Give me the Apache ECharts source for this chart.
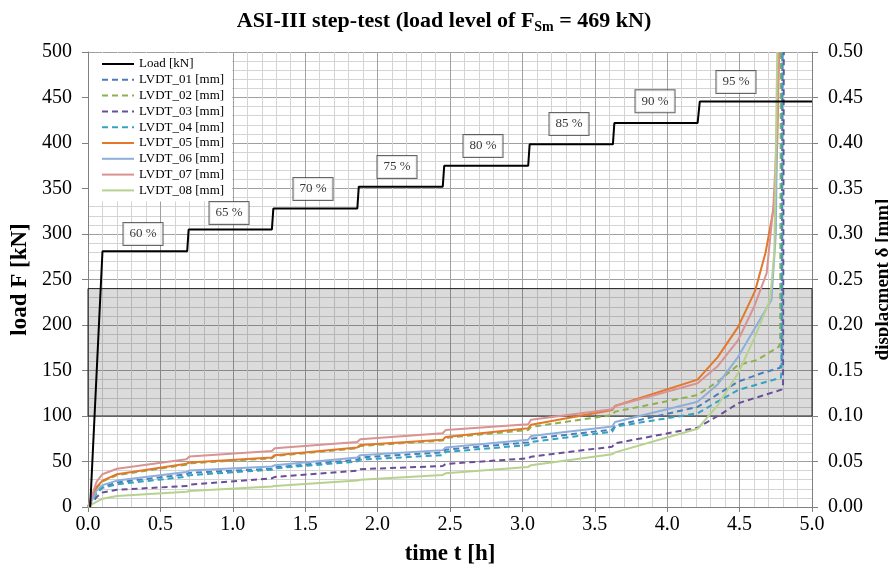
<!DOCTYPE html>
<html>
<head>
<meta charset="utf-8">
<script src="https://cdn.jsdelivr.net/npm/echarts@6/dist/echarts.min.js"></script>
<style>html,body{margin:0;padding:0;background:#fff}#c{width:888px;height:566px}</style>
</head>
<body>
<div id="c"></div>
<script>
// ---- data (time [h], value) ----
const loadKN = [[0.015,0],[0.10,281],[0.685,281],[0.695,305],[1.27,305],[1.28,328],[1.86,328],[1.87,352],[2.45,352],[2.46,375],[3.04,375],[3.05,398.5],[3.625,398.5],[3.635,422],[4.21,422],[4.225,445.5],[5.0,445.5]];
const lvdt01 = [[0,0],[0.03,0.007],[0.06,0.016],[0.1,0.022],[0.2,0.027],[0.68,0.036],[0.70,0.0375],[1.27,0.042],[1.29,0.0435],[1.86,0.052],[1.88,0.0545],[2.45,0.060],[2.47,0.063],[3.04,0.071],[3.06,0.075],[3.62,0.085],[3.64,0.0895],[4.21,0.110],[4.35,0.124],[4.49,0.1377],[4.65,0.147],[4.78,0.153],[4.79,0.16],[4.795,0.5]];
const lvdt02 = [[0,0],[0.03,0.009],[0.06,0.021],[0.1,0.028],[0.2,0.035],[0.68,0.0465],[0.70,0.048],[1.27,0.0535],[1.29,0.056],[1.86,0.0645],[1.88,0.067],[2.45,0.073],[2.47,0.076],[3.04,0.0846],[3.06,0.088],[3.62,0.101],[3.64,0.1048],[4.21,0.123],[4.35,0.138],[4.49,0.156],[4.62,0.1615],[4.77,0.176],[4.78,0.18],[4.785,0.5]];
const lvdt03 = [[0,0],[0.03,0.005],[0.06,0.011],[0.1,0.016],[0.2,0.019],[0.68,0.023],[0.70,0.0245],[1.27,0.0315],[1.29,0.033],[1.86,0.040],[1.88,0.0415],[2.45,0.045],[2.47,0.0473],[3.04,0.0535],[3.06,0.0553],[3.62,0.0663],[3.64,0.070],[4.21,0.0872],[4.35,0.100],[4.49,0.114],[4.65,0.122],[4.79,0.129],[4.80,0.135],[4.805,0.5]];
const lvdt04 = [[0,0],[0.03,0.007],[0.06,0.015],[0.1,0.021],[0.2,0.025],[0.68,0.0333],[0.70,0.035],[1.27,0.041],[1.29,0.0425],[1.86,0.050],[1.88,0.052],[2.45,0.057],[2.47,0.0605],[3.04,0.068],[3.06,0.0714],[3.62,0.0828],[3.64,0.0883],[4.21,0.103],[4.35,0.116],[4.49,0.1286],[4.65,0.136],[4.785,0.142],[4.79,0.15],[4.795,0.5]];
const lvdt05 = [[0,0],[0.03,0.010],[0.06,0.022],[0.1,0.029],[0.2,0.036],[0.68,0.0475],[0.70,0.049],[1.27,0.0545],[1.29,0.057],[1.86,0.0655],[1.88,0.068],[2.45,0.074],[2.47,0.077],[3.04,0.0865],[3.06,0.0905],[3.62,0.1065],[3.64,0.111],[4.21,0.140],[4.35,0.165],[4.49,0.198],[4.607,0.2375],[4.68,0.28],[4.745,0.337],[4.76,0.40],[4.772,0.5]];
const lvdt06 = [[0,0],[0.03,0.008],[0.06,0.018],[0.1,0.024],[0.2,0.029],[0.68,0.0385],[0.70,0.040],[1.27,0.0445],[1.29,0.046],[1.86,0.0545],[1.88,0.057],[2.45,0.0625],[2.47,0.0655],[3.04,0.074],[3.06,0.078],[3.62,0.0885],[3.64,0.0935],[4.21,0.1157],[4.35,0.135],[4.49,0.165],[4.60,0.195],[4.72,0.2275],[4.75,0.30],[4.765,0.5]];
const lvdt07 = [[0,0],[0.03,0.014],[0.06,0.028],[0.1,0.036],[0.2,0.042],[0.68,0.0525],[0.70,0.0555],[1.27,0.0615],[1.29,0.0645],[1.86,0.0715],[1.88,0.0745],[2.45,0.081],[2.47,0.0845],[3.04,0.091],[3.06,0.096],[3.62,0.1075],[3.64,0.111],[4.21,0.136],[4.35,0.155],[4.49,0.1835],[4.60,0.22],[4.687,0.257],[4.733,0.33],[4.755,0.40],[4.77,0.5]];
const lvdt08 = [[0,0],[0.03,0.003],[0.06,0.006],[0.1,0.009],[0.2,0.012],[0.68,0.0168],[0.70,0.0175],[1.27,0.0225],[1.29,0.023],[1.86,0.029],[1.88,0.030],[2.45,0.0352],[2.47,0.037],[3.04,0.044],[3.06,0.046],[3.62,0.058],[3.64,0.060],[4.21,0.086],[4.35,0.112],[4.49,0.147],[4.60,0.185],[4.71,0.2275],[4.74,0.28],[4.76,0.5]];
const levelLabels = ['60 %','65 %','70 %','75 %','80 %','85 %','90 %','95 %'];
const levelLabelPos = [[0.38,300],[0.974,323],[1.554,349.5],[2.134,373.6],[2.728,396.7],[3.322,421],[3.916,446],[4.475,467]];
const bandRange = [100,240];
const seriesNames = ['Load [kN]','LVDT_01 [mm]','LVDT_02 [mm]','LVDT_03 [mm]','LVDT_04 [mm]','LVDT_05 [mm]','LVDT_06 [mm]','LVDT_07 [mm]','LVDT_08 [mm]'];

const FONT = '"Liberation Serif","Times New Roman",serif';
const lv = [lvdt01,lvdt02,lvdt03,lvdt04,lvdt05,lvdt06,lvdt07,lvdt08];
const colors = ['#4a7ebb','#8eb04f','#6a4f98','#34a3c2','#e3782a','#8eaedb','#d99392','#b7d18e'];
const dashed = [true,true,true,true,false,false,false,false];

const series = [{
  name: seriesNames[0], type:'line', data: loadKN, yAxisIndex:0, symbol:'none',
  lineStyle:{color:'#000',width:2}, itemStyle:{color:'#000'}, z:3,
  markArea:{silent:true, itemStyle:{color:'rgba(0,0,0,0.14)',borderColor:'#222',borderWidth:1},
    data:[[{xAxis:0,yAxis:bandRange[0]},{xAxis:5,yAxis:bandRange[1]}]]}
}];
lv.forEach((d,i)=>{
  series.push({name:seriesNames[i+1],type:'line',data:d,yAxisIndex:1,symbol:'none',
    lineStyle:{color:colors[i],width:2,type:dashed[i]?[6,4]:'solid'},itemStyle:{color:colors[i]},z:2});
});
series.push({name:'levels',type:'scatter',yAxisIndex:0,symbolSize:1,itemStyle:{color:'rgba(0,0,0,0)'},z:5,
  data: levelLabelPos.map((p,i)=>({value:p,label:{formatter:levelLabels[i]}})),
  label:{show:true,position:'inside',fontFamily:FONT,fontSize:13,color:'#000',backgroundColor:'#fff',
    borderColor:'#404040',borderWidth:1,padding:[5,6,4,6]}});

const nameStyle = {fontFamily:FONT,fontSize:23,fontWeight:'bold',color:'#000'};
const chart = echarts.init(document.getElementById('c'),null,{renderer:'canvas'});
chart.setOption({
  animation:false,
  backgroundColor:'#fff',
  title:{left:'center',top:3,text:'{a|ASI-III step-test (load level of F}{s|Sm}{a| = 469 kN)}',
    textStyle:{rich:{a:{fontFamily:FONT,fontSize:22,fontWeight:'bold',color:'#000',lineHeight:26},
      s:{fontFamily:FONT,fontSize:14,fontWeight:'bold',color:'#000',lineHeight:14,verticalAlign:'bottom'}}}},
  grid:{left:88,right:76,top:52,bottom:59,containLabel:false,outerBoundsMode:'none'},
  legend:{data:seriesNames,orient:'vertical',left:89,top:53,padding:[4,8,4,12],itemWidth:32,itemHeight:14,itemGap:1.8,
    backgroundColor:'#fff',itemStyle:{opacity:0},textStyle:{fontFamily:FONT,fontSize:13,color:'#000',lineHeight:14}},
  xAxis:{type:'value',min:0,max:5,interval:0.5,
    name:'time t [h]',nameLocation:'middle',nameGap:36,nameTextStyle:nameStyle,
    axisLine:{lineStyle:{color:'#808080'}},axisTick:{show:true,length:5,lineStyle:{color:'#808080'}},
    axisLabel:{fontFamily:FONT,fontSize:20,color:'#000',margin:8,formatter:v=>v.toFixed(1)},
    splitLine:{show:true,lineStyle:{color:'#a0a0a0',width:1}},
    minorTick:{show:true,splitNumber:5,length:0},minorSplitLine:{show:true,lineStyle:{color:'#d4d4d4',width:1}}},
  yAxis:[{type:'value',min:0,max:500,interval:50,position:'left',
    name:'load F [kN]',nameLocation:'middle',nameGap:53,nameRotate:90,nameTextStyle:nameStyle,
    axisLine:{show:true,lineStyle:{color:'#808080'}},axisTick:{show:true,length:6,lineStyle:{color:'#808080'}},
    axisLabel:{fontFamily:FONT,fontSize:20,color:'#000',margin:16},
    splitLine:{show:true,lineStyle:{color:'#a0a0a0',width:1}},
    minorTick:{show:true,splitNumber:5,length:0},minorSplitLine:{show:true,lineStyle:{color:'#d4d4d4',width:1}}},
   {type:'value',min:0,max:0.5,interval:0.05,position:'right',
    name:'displacment δ [mm]',nameLocation:'middle',nameGap:42,nameRotate:90,
    nameTextStyle:{fontFamily:FONT,fontSize:19,fontWeight:'bold',color:'#000'},
    axisLine:{show:true,lineStyle:{color:'#808080'}},axisTick:{show:true,length:6,lineStyle:{color:'#808080'}},
    axisLabel:{fontFamily:FONT,fontSize:20,color:'#000',margin:16,formatter:v=>v.toFixed(2)},
    splitLine:{show:false}}],
  series:series
});
</script>
</body>
</html>
